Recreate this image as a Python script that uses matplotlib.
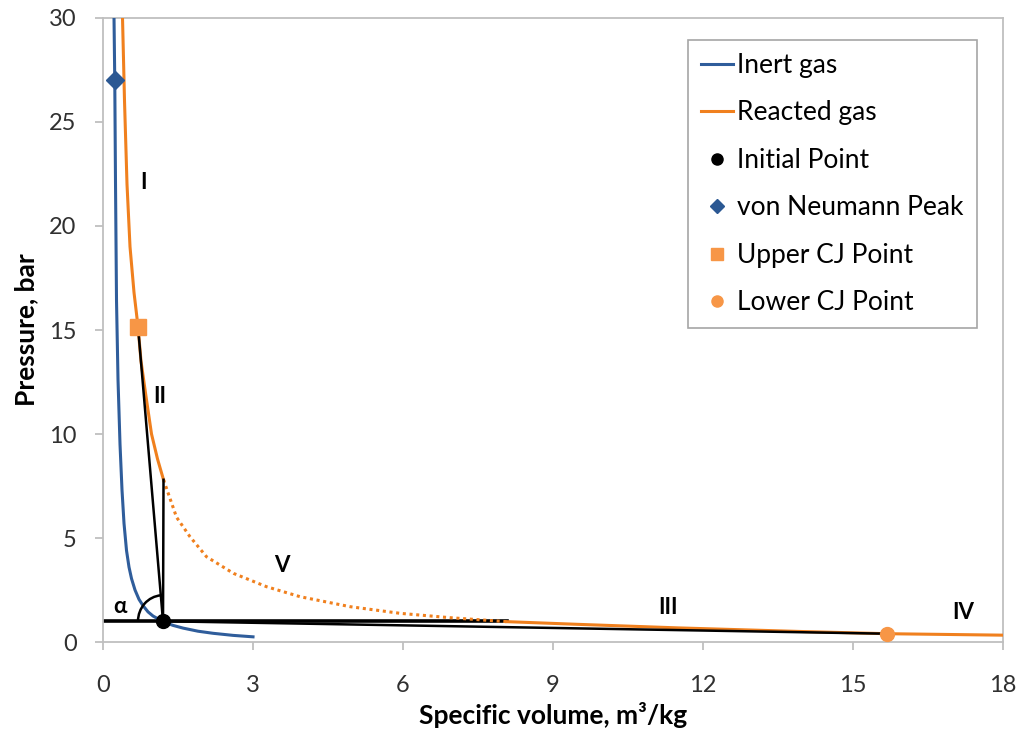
import numpy as np
import matplotlib.pyplot as plt
from matplotlib.patches import Arc

plt.rcParams['font.family'] = ['Lato', 'DejaVu Sans']

# Inert gas Hugoniot (specific volume, pressure)
inert_v = [0.22, 0.235, 0.25, 0.27, 0.30, 0.34, 0.38, 0.42, 0.47, 0.52, 0.57, 0.64, 0.72,
           0.80, 0.90, 1.0, 1.2, 1.4, 1.6, 1.9, 2.2, 2.6, 3.0]
inert_p = [30.0, 27.0, 22.0, 16.4, 12.6, 9.5, 7.3, 5.7, 4.4, 3.6, 3.05, 2.5, 2.05,
           1.75, 1.45, 1.25, 0.98, 0.8, 0.67, 0.52, 0.42, 0.32, 0.25]

# Reacted gas Hugoniot, split into solid upper / dotted middle / solid lower branch
react_up_v = [0.39, 0.43, 0.48, 0.54, 0.62, 0.70, 0.76, 0.86, 0.97, 1.09, 1.21]
react_up_p = [30.0, 26.0, 22.0, 19.0, 16.8, 15.16, 13.5, 11.8, 10.0, 8.8, 7.8]
react_mid_v = [1.21, 1.47, 1.74, 2.07, 2.61, 3.27, 3.94, 4.94, 5.94, 6.94, 8.07]
react_mid_p = [7.8, 6.0, 5.06, 4.1, 3.3, 2.66, 2.18, 1.7, 1.38, 1.17, 0.98]
react_low_v = [8.07, 9.5, 11.5, 13.9, 15.68, 18.0]
react_low_p = [0.98, 0.85, 0.68, 0.51, 0.40, 0.33]

# Key points
initial = (1.2, 1.0)
von_neumann = (0.235, 27.0)
upper_cj = (0.70, 15.16)
lower_cj = (15.68, 0.40)

# Region labels
region_names = ['I', 'II', 'V', 'III', 'IV', 'α']
region_x = [0.8, 1.14, 3.58, 11.3, 17.2, 0.34]
region_y = [22.1, 11.8, 3.7, 1.68, 1.44, 1.73]

blue = '#2F5D9B'
orange = '#F0801E'
orange_mk = '#F79646'
grey = '#BFBFBF'

fig = plt.figure(figsize=(10.24, 7.43), dpi=100)
ax = fig.add_axes([0.1006, 0.1359, 0.8789, 0.8399])

ax.plot(inert_v, inert_p, color=blue, lw=2.2, label='Inert gas', zorder=3)
ax.plot(react_up_v, react_up_p, color=orange, lw=2.2, label='Reacted gas', zorder=3)
ax.plot(react_mid_v, react_mid_p, color=orange, lw=2.2, ls=(0, (1, 1.2)), zorder=3)
ax.plot(react_low_v, react_low_p, color=orange, lw=2.2, zorder=3)

# construction lines
ax.plot([0, react_low_v[0]], [initial[1], initial[1]], color='black', lw=2.6, zorder=2)
ax.plot([initial[0], upper_cj[0]], [initial[1], upper_cj[1]], color='black', lw=1.8, zorder=4)
ax.plot([initial[0], lower_cj[0]], [initial[1], lower_cj[1]], color='black', lw=1.8, zorder=4)
ax.plot([initial[0], react_up_v[-1]], [initial[1], react_up_p[-1]], color='black', lw=1.8, zorder=4)

ang = np.degrees(np.arctan2(upper_cj[1] - initial[1], upper_cj[0] - initial[0]))
ax.add_patch(Arc(initial, 1.0, 2.5, theta1=ang, theta2=180, color='black', lw=1.8, zorder=4))

ax.plot(*initial, 'o', color='black', ms=10, ls='none', label='Initial Point', zorder=6)
ax.plot(*von_neumann, 'D', color='#2B5893', ms=9, ls='none', label='von Neumann Peak', zorder=6)
ax.plot(*upper_cj, 's', color=orange_mk, ms=11, ls='none', label='Upper CJ Point', zorder=6)
ax.plot(*lower_cj, 'o', color=orange_mk, ms=10, ls='none', label='Lower CJ Point', zorder=6)

for name, x, y in zip(region_names, region_x, region_y):
    ax.text(x, y, name, fontsize=16, fontweight='bold', ha='center', va='center', zorder=7)

ax.set_xlim(0, 18)
ax.set_ylim(0, 30)
ax.set_xticks(np.arange(0, 19, 3))
ax.set_yticks(np.arange(0, 31, 5))
for s in ax.spines.values():
    s.set_color(grey)
    s.set_linewidth(1.3)
ax.tick_params(axis='both', colors=grey, length=6, width=1.3, labelsize=17, labelcolor='#303030')
ax.tick_params(axis='y', pad=13)
ax.tick_params(axis='x', pad=18)

ax.set_xlabel('Specific volume, m³/kg', fontsize=19, fontweight='bold', labelpad=4)
ax.set_ylabel('Pressure, bar', fontsize=19, fontweight='bold', labelpad=8)

leg = ax.legend(loc='upper left', bbox_to_anchor=(0.65, 0.965), borderaxespad=0,
                fontsize=19, frameon=True, fancybox=False, framealpha=1,
                edgecolor='#A6A6A6', handlelength=1.2, handletextpad=0.15,
                labelspacing=0.85, markerscale=0.8, borderpad=0.5)
leg.get_frame().set_linewidth(1.2)

fig.savefig('out.png', dpi=100)
